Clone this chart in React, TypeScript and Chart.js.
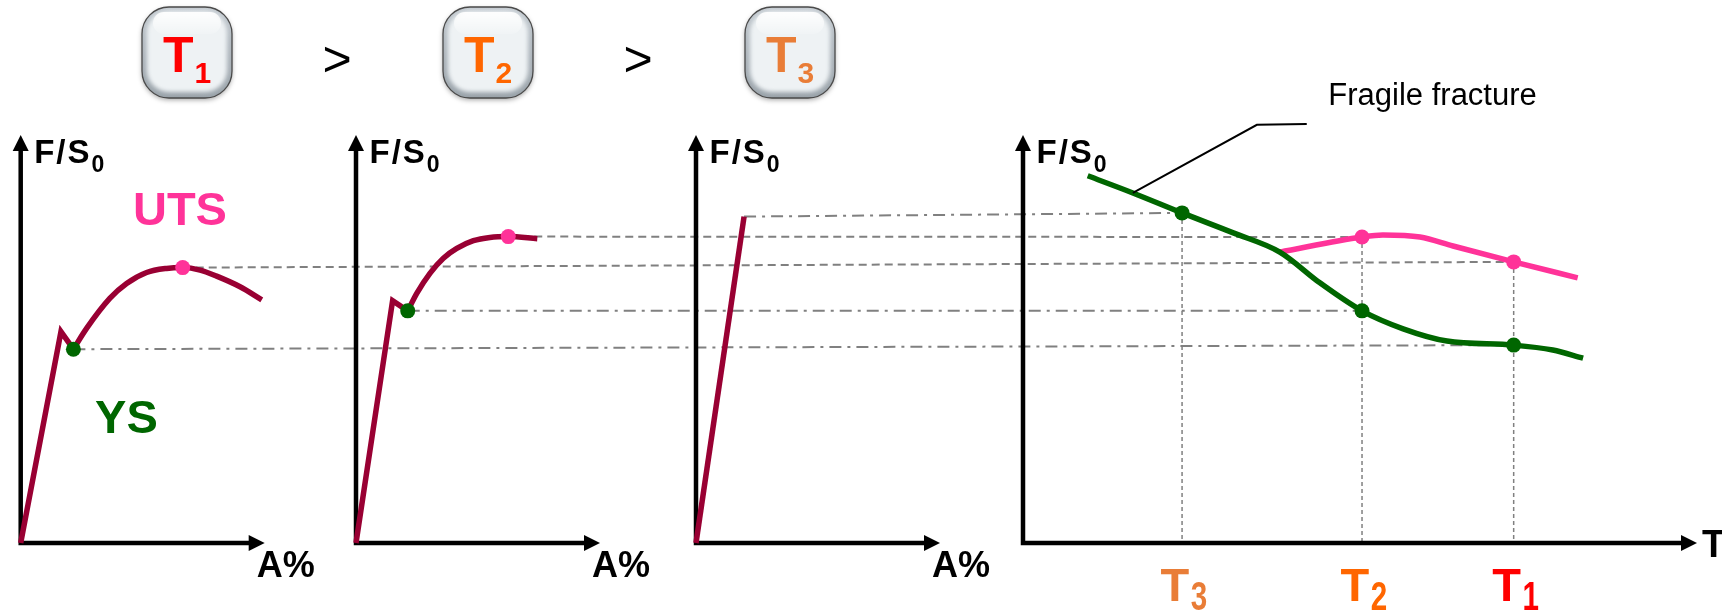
import React, { useEffect, useRef } from "react";
import { Chart, registerables } from "chart.js";

Chart.register(...registerables);

// ---- Stress–strain curves (F/S0 against A%) at three temperatures ----
const STRAIN_T1 = [0, 16.5, 21.6, 27.0, 36.6, 43.4, 51.6, 59.8, 66.4, 73.5, 80.3, 89.9, 98.8];
const STRESS_T1 = [0, 51.8, 47.5, 52.6, 60.0, 63.6, 66.3, 67.3, 67.5, 66.9, 65.4, 62.8, 59.6];
const YS_IDX_T1 = 2;
const UTS_IDX_T1 = 8;

const STRAIN_T2 = [0, 15.0, 21.2, 24.9, 30.3, 35.8, 41.3, 48.1, 54.9, 62.4, 74.3];
const STRESS_T2 = [0, 59.4, 56.9, 61.2, 66.1, 69.8, 72.2, 74.1, 74.9, 75.1, 74.6];
const YS_IDX_T2 = 2;
const UTS_IDX_T2 = 9;

const STRAIN_T3 = [0, 19.7];
const STRESS_T3 = [0, 80.0];

// ---- F/S0 against temperature ----
const TEMP_YS = [9.6, 16.3, 23.6, 31.2, 38.1, 44.1, 50.3, 56.4, 62.9, 72.8, 78.6, 83.1];
const YS_VS_TEMP = [90.0, 85.8, 80.9, 76.0, 71.3, 63.7, 56.9, 52.5, 49.5, 48.5, 47.3, 45.3];
const TEMP_UTS = [38.1, 50.3, 53.4, 58.9, 63.8, 72.8, 82.3];
const UTS_VS_TEMP = [71.3, 75.0, 75.5, 75.0, 72.8, 68.9, 65.0];

// temperatures marked on the T axis, left to right
const TEMP_MARKS = [23.6, 50.3, 72.8];
const TEMP_SUBS = ["3", "2", "1"];
const BADGE_SUBS = ["1", "2", "3"];
const AXIS_MAX = 100;

// ---- layout ----
const W = 1722;
const H = 615;
const ORIGIN_Y = 543;
const PX_PER_STRESS = 4.08;
const PANEL_X = [20.7, 356, 696, 1023];
const PX_PER_STRAIN = 2.44;
const PX_PER_TEMP = 6.74;
const BADGE_X = [187, 488, 790];
const BADGE_Y = 52.5;
const GT_X = [337, 638];

const MAROON = "#990033";
const PINK = "#FF3399";
const GREEN = "#006600";
const GREY = "#808080";
const T_COLORS: Record<string, string> = { "1": "#FF0000", "2": "#FF6600", "3": "#E97D37" };
const FONT = '"Liberation Sans", Arial, Helvetica, sans-serif';

const DASHED = [8, 5];
const DASH_DOT = [12, 6, 3, 6];

const pts = (xs: number[], ys: number[]) => xs.map((x, i) => ({ x, y: ys[i] }));
const idxOf = (arr: number[], v: number) => arr.indexOf(v);

const iT3y = idxOf(TEMP_YS, TEMP_MARKS[0]);
const iT2y = idxOf(TEMP_YS, TEMP_MARKS[1]);
const iT1y = idxOf(TEMP_YS, TEMP_MARKS[2]);
const iT2u = idxOf(TEMP_UTS, TEMP_MARKS[1]);
const iT1u = idxOf(TEMP_UTS, TEMP_MARKS[2]);

// dashed links carrying each level from a tensile curve to the temperature plot
const LINKS = [
  { from: ["xa1", STRAIN_T1[UTS_IDX_T1], STRESS_T1[UTS_IDX_T1]], to: ["xt", TEMP_UTS[iT1u], UTS_VS_TEMP[iT1u]], dash: DASHED },
  { from: ["xa1", STRAIN_T1[YS_IDX_T1], STRESS_T1[YS_IDX_T1]], to: ["xt", TEMP_YS[iT1y], YS_VS_TEMP[iT1y]], dash: DASH_DOT },
  { from: ["xa2", STRAIN_T2[UTS_IDX_T2], STRESS_T2[UTS_IDX_T2]], to: ["xt", TEMP_UTS[iT2u], UTS_VS_TEMP[iT2u]], dash: DASHED },
  { from: ["xa2", STRAIN_T2[YS_IDX_T2], STRESS_T2[YS_IDX_T2]], to: ["xt", TEMP_YS[iT2y], YS_VS_TEMP[iT2y]], dash: DASH_DOT },
  { from: ["xa3", STRAIN_T3[1], STRESS_T3[1]], to: ["xt", TEMP_YS[iT3y], YS_VS_TEMP[iT3y]], dash: DASH_DOT },
];

function roundRectPath(ctx: CanvasRenderingContext2D, x: number, y: number, w: number, h: number, r: number) {
  ctx.beginPath();
  ctx.moveTo(x + r, y);
  ctx.arcTo(x + w, y, x + w, y + h, r);
  ctx.arcTo(x + w, y + h, x, y + h, r);
  ctx.arcTo(x, y + h, x, y, r);
  ctx.arcTo(x, y, x + w, y, r);
  ctx.closePath();
}

function drawBadge(ctx: CanvasRenderingContext2D, cx: number, cy: number, sub: string) {
  const w = 90, h = 91, r = 27;
  const x = cx - w / 2, y = cy - h / 2;
  ctx.save();
  // body with soft drop shadow
  ctx.shadowColor = "rgba(0,0,0,0.35)";
  ctx.shadowBlur = 5;
  ctx.shadowOffsetY = 2;
  roundRectPath(ctx, x, y, w, h, r);
  const edge = ctx.createLinearGradient(x, y, x, y + h);
  edge.addColorStop(0, "#c3cad0");
  edge.addColorStop(1, "#9aa3aa");
  ctx.fillStyle = edge;
  ctx.fill();
  ctx.restore();

  // bevelled inner face
  ctx.save();
  ctx.filter = "blur(2px)";
  roundRectPath(ctx, x + 5, y + 4, w - 10, h - 10, r - 5);
  ctx.fillStyle = "#eef2f4";
  ctx.fill();
  ctx.restore();

  // gloss highlight along the top
  ctx.save();
  roundRectPath(ctx, x + 11, y + 5, w - 22, 22, 11);
  const gl = ctx.createLinearGradient(x, y + 5, x, y + 27);
  gl.addColorStop(0, "rgba(255,255,255,0.95)");
  gl.addColorStop(1, "rgba(255,255,255,0.15)");
  ctx.fillStyle = gl;
  ctx.fill();
  ctx.restore();

  // outline
  ctx.save();
  roundRectPath(ctx, x, y, w, h, r);
  ctx.strokeStyle = "#4a4a4a";
  ctx.lineWidth = 1.3;
  ctx.stroke();
  ctx.restore();

  // label
  const color = T_COLORS[sub];
  ctx.save();
  ctx.fillStyle = color;
  ctx.textAlign = "left";
  ctx.textBaseline = "alphabetic";
  ctx.font = `bold 50px ${FONT}`;
  const tx = cx - 24;
  ctx.fillText("T", tx, y + 64.5);
  const tw = ctx.measureText("T").width;
  ctx.font = `bold 30px ${FONT}`;
  ctx.fillText(sub, tx + tw + 1, y + 75.5);
  ctx.restore();
}

function text(ctx: CanvasRenderingContext2D, s: string, x: number, y: number, font: string, color: string, spacing = 0) {
  ctx.font = font;
  ctx.fillStyle = color;
  ctx.textAlign = "left";
  ctx.textBaseline = "alphabetic";
  (ctx as any).letterSpacing = `${spacing}px`;
  ctx.fillText(s, x, y);
  const w = ctx.measureText(s).width;
  (ctx as any).letterSpacing = "0px";
  return w;
}

const diagramPlugin = {
  id: "tensileDiagram",
  beforeDatasetsDraw(chart: any) {
    const { ctx, scales } = chart;
    const sy = scales.y;
    const at = (id: string, x: number, y: number) => [scales[id].getPixelForValue(x), sy.getPixelForValue(y)];
    ctx.save();

    // horizontal level links
    ctx.strokeStyle = GREY;
    ctx.lineWidth = 2;
    for (const l of LINKS) {
      const [x0, y0] = at(l.from[0] as string, l.from[1] as number, l.from[2] as number);
      const [x1, y1] = at(l.to[0] as string, l.to[1] as number, l.to[2] as number);
      ctx.setLineDash(l.dash);
      ctx.beginPath();
      ctx.moveTo(x0, y0);
      ctx.lineTo(x1, y1);
      ctx.stroke();
    }

    // drop lines from each marked temperature to the T axis
    ctx.lineWidth = 1.5;
    ctx.setLineDash([4, 3]);
    TEMP_MARKS.forEach((t) => {
      const iy = TEMP_YS.indexOf(t);
      const iu = TEMP_UTS.indexOf(t);
      const top = Math.max(iy >= 0 ? YS_VS_TEMP[iy] : -Infinity, iu >= 0 ? UTS_VS_TEMP[iu] : -Infinity);
      const [x, y0] = at("xt", t, top);
      const [, y1] = at("xt", t, 0);
      ctx.beginPath();
      ctx.moveTo(x, y0);
      ctx.lineTo(x, y1);
      ctx.stroke();
    });
    ctx.setLineDash([]);

    // axes with arrow heads
    const AL = 16, AH = 8;
    ctx.strokeStyle = "#000";
    ctx.fillStyle = "#000";
    ctx.lineWidth = 4.5;
    ctx.lineJoin = "miter";
    ["xa1", "xa2", "xa3", "xt"].forEach((id) => {
      const [xo, yo] = at(id, 0, 0);
      const [xe, yt] = at(id, AXIS_MAX, AXIS_MAX);
      ctx.beginPath();
      ctx.moveTo(xo, yt + AL - 1);
      ctx.lineTo(xo, yo);
      ctx.lineTo(xe - AL + 1, yo);
      ctx.stroke();
      ctx.beginPath();
      ctx.moveTo(xo, yt);
      ctx.lineTo(xo - AH, yt + AL);
      ctx.lineTo(xo + AH, yt + AL);
      ctx.closePath();
      ctx.fill();
      ctx.beginPath();
      ctx.moveTo(xe, yo);
      ctx.lineTo(xe - AL, yo - AH);
      ctx.lineTo(xe - AL, yo + AH);
      ctx.closePath();
      ctx.fill();
    });
    ctx.restore();
  },
  afterDraw(chart: any) {
    const { ctx, scales } = chart;
    const sy = scales.y;
    const at = (id: string, x: number, y: number) => [scales[id].getPixelForValue(x), sy.getPixelForValue(y)];
    ctx.save();

    // axis titles
    ["xa1", "xa2", "xa3", "xt"].forEach((id, k) => {
      const [xo, yo] = at(id, 0, 0);
      const [xe, yt] = at(id, AXIS_MAX, AXIS_MAX);
      const w = text(ctx, "F/S", xo + 13.5, yt + 28, `bold 33px ${FONT}`, "#000", 2);
      text(ctx, "0", xo + 13.5 + w, yt + 37, `bold 23px ${FONT}`, "#000");
      if (k < 3) text(ctx, "A%", xo + 236, yo + 34, `bold 36px ${FONT}`, "#000");
      else text(ctx, "T", xe + 5, yo + 14, `bold 38px ${FONT}`, "#000");
    });

    // UTS / YS captions on the first curve
    const [ux, uy] = at("xa1", 46, 77.9);
    text(ctx, "UTS", ux, uy, `bold 47px ${FONT}`, PINK);
    const [yx, yy] = at("xa1", 30.5, 27.0);
    text(ctx, "YS", yx, yy, `bold 47px ${FONT}`, GREEN);

    // temperature labels under the T axis
    TEMP_MARKS.forEach((t, i) => {
      const [cx, y0] = at("xt", t, 0);
      const color = T_COLORS[TEMP_SUBS[i]];
      const w = text(ctx, "T", cx - 21.5, y0 + 57.5, `bold 47px ${FONT}`, color);
      ctx.save();
      ctx.translate(cx - 21.5 + w + 1.5, y0 + 67);
      ctx.scale(0.74, 1);
      text(ctx, TEMP_SUBS[i], 0, 0, `bold 40px ${FONT}`, color);
      ctx.restore();
    });

    // "Fragile fracture" call-out
    const [ax, ay] = at("xt", TEMP_YS[1], YS_VS_TEMP[1]);
    const [ex, ey] = at("xt", 34.7, 102.5);
    const [fx, fy] = at("xt", 42.1, 102.7);
    ctx.strokeStyle = "#000";
    ctx.lineWidth = 2;
    ctx.beginPath();
    ctx.moveTo(ax, ay);
    ctx.lineTo(ex, ey);
    ctx.lineTo(fx, fy);
    ctx.stroke();
    const [lx, ly] = at("xt", 45.3, 107.4);
    text(ctx, "Fragile fracture", lx, ly, `31px ${FONT}`, "#000");

    // T1 > T2 > T3 badges
    BADGE_X.forEach((bx, i) => drawBadge(ctx, bx, BADGE_Y, BADGE_SUBS[i]));
    GT_X.forEach((gx) => {
      ctx.font = `50px ${FONT}`;
      ctx.fillStyle = "#000";
      ctx.textAlign = "center";
      ctx.textBaseline = "alphabetic";
      ctx.fillText(">", gx, 76);
    });
    ctx.restore();
  },
};

const lineDs = (xAxisID: string, data: any[], color: string, smooth: boolean) => ({
  xAxisID,
  yAxisID: "y",
  data,
  showLine: true,
  borderColor: color,
  backgroundColor: color,
  borderWidth: 5.5,
  borderJoinStyle: "miter",
  borderCapStyle: "butt",
  pointRadius: 0,
  tension: 0,
  cubicInterpolationMode: smooth ? "monotone" : "default",
  order: 2,
});

const dotDs = (xAxisID: string, data: any[], color: string) => ({
  xAxisID,
  yAxisID: "y",
  data,
  showLine: false,
  pointRadius: 7.5,
  pointBorderWidth: 0,
  pointBackgroundColor: color,
  backgroundColor: color,
  borderColor: color,
  order: 0,
});

const strainScale = (origin: number) => ({
  type: "linear",
  axis: "x",
  position: "bottom",
  display: false,
  min: -origin / PX_PER_STRAIN,
  max: (W - origin) / PX_PER_STRAIN,
});

export default function App() {
  const canvasRef = useRef<HTMLCanvasElement | null>(null);

  useEffect(() => {
    const canvas = canvasRef.current;
    if (!canvas) return;
    const p1 = pts(STRAIN_T1, STRESS_T1);
    const p2 = pts(STRAIN_T2, STRESS_T2);
    const p3 = pts(STRAIN_T3, STRESS_T3);
    const ysT = pts(TEMP_YS, YS_VS_TEMP);
    const utsT = pts(TEMP_UTS, UTS_VS_TEMP);

    const chart = new Chart(canvas, {
      type: "scatter",
      data: {
        datasets: [
          dotDs("xa1", [p1[YS_IDX_T1]], GREEN),
          dotDs("xa1", [p1[UTS_IDX_T1]], PINK),
          dotDs("xa2", [p2[YS_IDX_T2]], GREEN),
          dotDs("xa2", [p2[UTS_IDX_T2]], PINK),
          dotDs("xt", [ysT[iT3y], ysT[iT2y], ysT[iT1y]], GREEN),
          dotDs("xt", [utsT[iT2u], utsT[iT1u]], PINK),
          lineDs("xa1", p1.slice(0, YS_IDX_T1 + 1), MAROON, false),
          lineDs("xa1", p1.slice(YS_IDX_T1), MAROON, true),
          lineDs("xa2", p2.slice(0, YS_IDX_T2 + 1), MAROON, false),
          lineDs("xa2", p2.slice(YS_IDX_T2), MAROON, true),
          lineDs("xa3", p3, MAROON, false),
          lineDs("xt", ysT, GREEN, true),
          lineDs("xt", utsT, PINK, true),
        ] as any,
      },
      options: {
        responsive: false,
        animation: false,
        devicePixelRatio: 1,
        events: [],
        layout: { padding: 0, autoPadding: false },
        plugins: {
          legend: { display: false },
          tooltip: { enabled: false },
          title: { display: false },
        },
        scales: {
          x: { type: "linear", display: false },
          y: {
            type: "linear",
            display: false,
            min: -(H - ORIGIN_Y) / PX_PER_STRESS,
            max: ORIGIN_Y / PX_PER_STRESS,
          },
          xa1: strainScale(PANEL_X[0]),
          xa2: strainScale(PANEL_X[1]),
          xa3: strainScale(PANEL_X[2]),
          xt: {
            type: "linear",
            axis: "x",
            position: "bottom",
            display: false,
            min: -PANEL_X[3] / PX_PER_TEMP,
            max: (W - PANEL_X[3]) / PX_PER_TEMP,
          },
        } as any,
      },
      plugins: [diagramPlugin],
    });
    return () => chart.destroy();
  }, []);

  return (
    <div style={{ position: "absolute", left: 0, top: 0, width: W, height: H, background: "#fff" }}>
      <canvas ref={canvasRef} width={W} height={H} style={{ display: "block", width: W, height: H }} />
    </div>
  );
}
